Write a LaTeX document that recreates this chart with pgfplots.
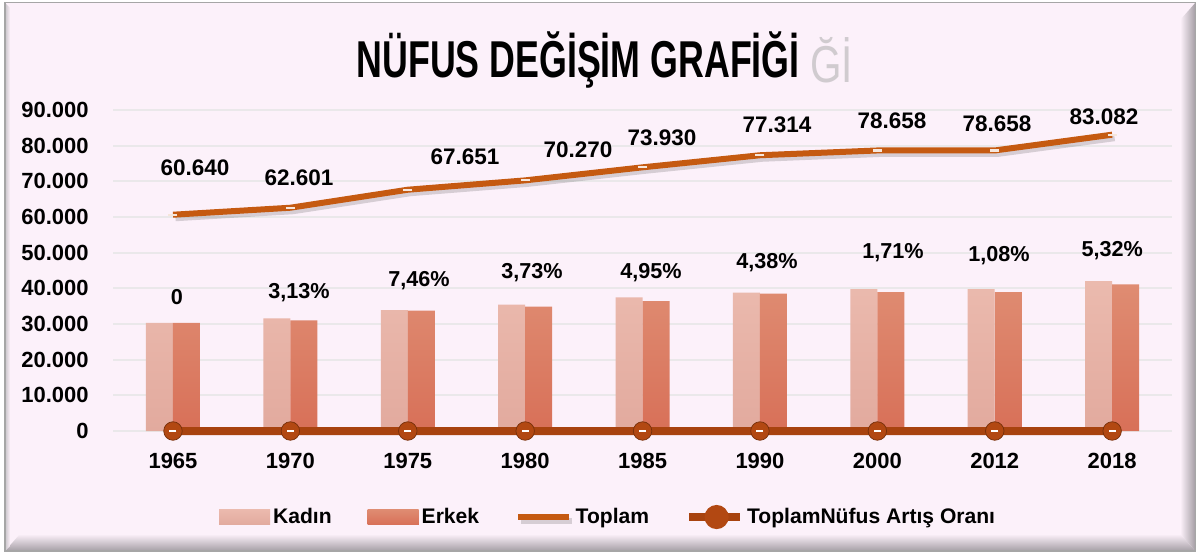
\documentclass[border=0pt]{standalone}
\usepackage{pgfplots}
\pgfplotsset{compat=1.18}
\usepackage{pgfplotstable}
\usepackage{fontspec}
\setmainfont{Liberation Sans}
\newfontfamily\titlefont[FakeStretch=0.69]{Liberation Sans}
\newfontfamily\ghostfont[FakeStretch=0.78]{Liberation Sans}
\definecolor{bgpink}{RGB}{252,241,250}
\definecolor{kadin}{RGB}{235,186,174}
\definecolor{kadinB}{RGB}{226,170,158}
\definecolor{erkek}{RGB}{223,140,114}
\definecolor{erkekB}{RGB}{216,112,88}
\definecolor{toplam}{RGB}{197,90,17}
\definecolor{artis}{RGB}{168,67,15}
\definecolor{artismk}{RGB}{178,72,18}
\definecolor{gridc}{RGB}{234,232,234}
\definecolor{bevel}{RGB}{165,158,165}

\pgfplotstableread{
x kadin erkek toplam oran
0 30330 30310 60640 0
1 31600 31001 62601 0.0313
2 33900 33751 67651 0.0746
3 35400 34870 70270 0.0373
4 37500 36430 73930 0.0495
5 38800 38514 77314 0.0438
6 39750 38908 78658 0.0171
7 39750 38908 78658 0.0108
8 42000 41082 83082 0.0532
}\data

\pgfplotstableread{
x y label
0.187 73730 60.640
1.073 70930 62.601
2.487 76800 67.651
3.45 78800 70.270
4.165 82100 73.930
5.145 85800 77.314
6.124 86900 78.658
7.019 86100 78.658
7.93 88000 83.082
}\toplamlabels

\pgfplotstableread{
x y label
0.034 37570 0
1.073 38690 3,13\%
2.095 42050 7,46\%
3.058 44300 3,73\%
4.072 44300 4,95\%
5.06 47100 4,38\%
6.133 49900 1,71\%
7.036 49300 1,08\%
8.0 50500 5,32\%
}\oranlabels

\begin{document}
\begin{tikzpicture}
\useasboundingbox (0,0) rectangle (23.96cm,11.08cm);
\begin{scope}[x=0.02cm,y=0.02cm]
  \fill[white] (0,0) rectangle (1198,554);
  \fill[bgpink] (5,3) rectangle (1195,551);
  \shade[left color=bgpink, right color=bevel] (1180,20) -- (1195,3) -- (1195,551) -- (1180,534) -- cycle;
  \shade[top color=bgpink, bottom color=bevel] (20,20) -- (1180,20) -- (1195,3) -- (5,3) -- cycle;
  \shade[left color=bevel!60, right color=bgpink] (5,3) -- (10,8) -- (10,546) -- (5,551) -- cycle;
  \draw[gray!70, line width=0.6pt] (5,3) rectangle (1195,551);
  % title and the visible end of its faint grey reflection
  \node[anchor=west, inner sep=0pt, text=gray!70, opacity=0.5] at (810,494)
     {\ghostfont\fontsize{29.5}{32}\selectfont Ğİ};
  \node[anchor=center, inner sep=0pt] at (578,494)
     {\titlefont\bfseries\fontsize{29.5}{32}\selectfont NÜFUS DEĞİŞİM GRAFİĞİ};
\end{scope}
\begin{axis}[
  at={(2.26cm,2.46cm)}, anchor=south west,
  scale only axis, width=21.18cm, height=6.42cm,
  xmin=-0.511, xmax=8.51, ymin=0, ymax=90000,
  xtick={0,1,2,3,4,5,6,7,8},
  xticklabels={1965,1970,1975,1980,1985,1990,2000,2012,2018},
  ytick={0,10000,20000,30000,40000,50000,60000,70000,80000,90000},
  yticklabels={0,10.000,20.000,30.000,40.000,50.000,60.000,70.000,80.000,90.000},
  scaled y ticks=false,
  ymajorgrids, major grid style={gridc, line width=0.04cm},
  axis line style={draw=none},
  major tick length=0pt,
  tick label style={font=\bfseries\fontsize{12.5}{14}\selectfont, inner sep=0pt},
  yticklabel style={anchor=east, xshift=-0.48cm},
  xticklabel style={anchor=north, yshift=-0.44cm},
  clip=false,
  legend columns=4,
  legend style={at={(0.468,-0.268)}, anchor=center, draw=none, fill=none,
    font=\bfseries\fontsize{12}{14}\selectfont,
    nodes={inner sep=0.06cm},
    /tikz/every even column/.append style={column sep=0.66cm}},
]
\addplot[ybar, bar width=0.54cm, bar shift=-0.27cm, draw=none, top color=kadin, bottom color=kadinB,
  legend image code/.code={\fill[kadin] (0cm,-0.15cm) rectangle (1.02cm,0.15cm);}]
  table[x=x,y=kadin]{\data};
\addlegendentry{Kadın}
\addplot[ybar, bar width=0.54cm, bar shift=0.27cm, draw=none, top color=erkek, bottom color=erkekB,
  legend image code/.code={\fill[erkekB] (0cm,-0.15cm) rectangle (1.02cm,0.15cm);}]
  table[x=x,y=erkek]{\data};
\addlegendentry{Erkek}
\addplot[toplam, line width=0.12cm, mark=none,
  preaction={draw=black, opacity=0.15, line width=0.12cm, transform canvas={xshift=0.05cm,yshift=-0.07cm}},
  legend image code/.code={\draw[toplam, line width=0.13cm] (0cm,0cm) -- (1.02cm,0cm);}]
  table[x=x,y=toplam]{\data};
\addlegendentry{Toplam}
\addplot[artis, line width=0.16cm, mark=*, mark size=0.185cm,
  mark options={fill=artismk, draw=artis!70!black, line width=0.4pt},
  legend image code/.code={\draw[artis, line width=0.16cm] (0cm,0cm) -- (1.02cm,0cm);
     \fill[artismk] (0.55cm,0cm) circle (0.16cm);}]
  table[x=x,y=oran]{\data};
\addlegendentry{ToplamNüfus Artış Oranı}
% white dashes on markers
\addplot[forget plot, draw=none, mark=-, mark size=0.07cm, mark options={white, line width=1pt}]
  table[x=x,y=oran]{\data};
\addplot[forget plot, draw=none, mark=-, mark size=0.09cm, mark options={white!85!toplam, line width=1.2pt}]
  table[x=x,y=toplam]{\data};
% data labels
\addplot[forget plot, draw=none, mark=none, nodes near coords, point meta=explicit symbolic,
  every node near coord/.append style={anchor=center, inner sep=0pt, font=\bfseries\fontsize{12.8}{14}\selectfont}]
  table[x=x,y=y,meta=label]{\toplamlabels};
\addplot[forget plot, draw=none, mark=none, nodes near coords, point meta=explicit symbolic,
  every node near coord/.append style={anchor=center, inner sep=0pt, font=\bfseries\fontsize{12.3}{14}\selectfont}]
  table[x=x,y=y,meta=label]{\oranlabels};
\end{axis}
\end{tikzpicture}
\end{document}
